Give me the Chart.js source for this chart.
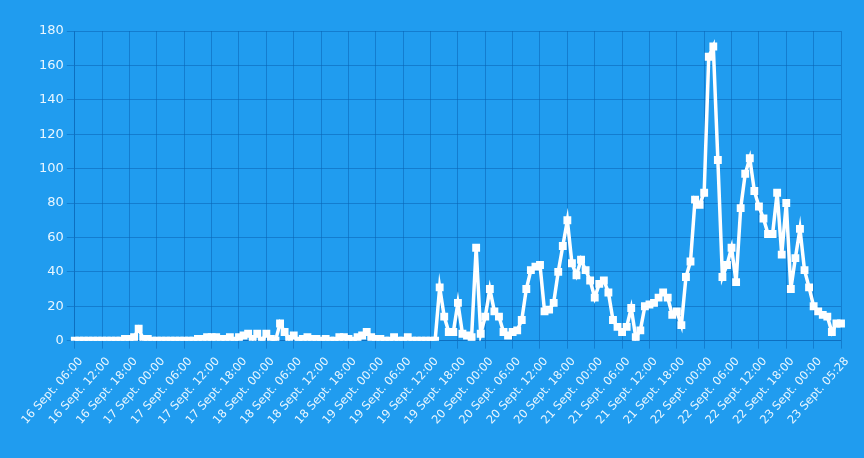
<!DOCTYPE html>
<html>
<head>
<meta charset="utf-8">
<script src="https://cdn.jsdelivr.net/npm/chart.js@4.4.1/dist/chart.umd.min.js"></script>
<style>
  html, body { margin: 0; padding: 0; background: #209cef; }
  #wrap { width: 864px; height: 458px; }
</style>
</head>
<body>
<div id="wrap"><canvas id="chart"></canvas></div>
<script>
// shown every 6 hours on the x axis
const tickLabels = [
  "16 Sept. 06:00", "16 Sept. 12:00", "16 Sept. 18:00",
  "17 Sept. 00:00", "17 Sept. 06:00", "17 Sept. 12:00", "17 Sept. 18:00",
  "18 Sept. 00:00", "18 Sept. 06:00", "18 Sept. 12:00", "18 Sept. 18:00",
  "19 Sept. 00:00", "19 Sept. 06:00", "19 Sept. 12:00", "19 Sept. 18:00",
  "20 Sept. 00:00", "20 Sept. 06:00", "20 Sept. 12:00", "20 Sept. 18:00",
  "21 Sept. 00:00", "21 Sept. 06:00", "21 Sept. 12:00", "21 Sept. 18:00",
  "22 Sept. 00:00", "22 Sept. 06:00", "22 Sept. 12:00", "22 Sept. 18:00",
  "23 Sept. 00:00", "23 Sept. 05:28"
];

// hourly counts, 16 Sept 06:00 -> 23 Sept 05:28
const hourly = [
  0, 0, 0, 0, 0, 0, 0, 0, 0, 0, 0, 1,          // 16 Sept 06-17
  1, 2, 7, 1, 1, 0, 0, 0, 0, 0, 0, 0,          // 18-05
  0, 0, 0, 1, 1, 2, 2, 2, 1, 1, 2, 0,          // 17 Sept 06-17
  2, 3, 4, 1, 4, 0, 4, 1, 0, 10, 5, 1,         // 18-05
  3, 0, 1, 2, 1, 1, 0, 1, 0, 0, 2, 2,          // 18 Sept 06-17
  1, 0, 2, 3, 5, 2, 1, 1, 0, 0, 2, 0,          // 18-05
  0, 2, 0, 0, 0, 0, 0, 0, 31, 14, 5, 5,        // 19 Sept 06-17
  22, 4, 3, 2, 54, 4, 14, 30, 17, 14, 5, 3,    // 18-05
  5, 6, 12, 30, 41, 43, 44, 17, 18, 22, 40, 55, // 20 Sept 06-17
  70, 45, 38, 47, 41, 35, 25, 33, 35, 28, 12, 8, // 18-05
  5, 8, 19, 2, 6, 20, 21, 22, 25, 28, 25, 15,  // 21 Sept 06-17
  17, 9, 37, 46, 82, 79, 86, 165, 171, 105, 37, 44, // 18-05
  54, 34, 77, 97, 106, 87, 78, 71, 62, 62, 86, 50, // 22 Sept 06-17
  80, 30, 48, 65, 41, 31, 20, 17, 15, 14, 5, 10,   // 18-05
  10                                               // 23 Sept 05:28
];

const yTicks = [0, 20, 40, 60, 80, 100, 120, 140, 160, 180];

const labels = hourly.map((_, i) => i % 6 === 0 ? tickLabels[i / 6] : "");

const textColor = "#e8f6ff";
const gridColor = "rgba(10, 100, 180, 0.55)";

new Chart(document.getElementById("chart").getContext("2d"), {
  type: "line",
  data: {
    labels,
    datasets: [{
      data: hourly,
      borderColor: "#ffffff",
      backgroundColor: "#ffffff",
      borderWidth: 3.5,
      pointStyle: "rect",
      pointRadius: 4.5,
      pointBorderWidth: 1.5,
      tension: 0
    }]
  },
  options: {
    responsive: true,
    maintainAspectRatio: false,
    animation: false,
    layout: { padding: { left: 36, right: 23, top: 31, bottom: 25 } },
    plugins: {
      legend: { display: false },
      tooltip: { enabled: false }
    },
    scales: {
      x: {
        grid: { color: gridColor, lineWidth: 1 },
        border: { color: gridColor },
        ticks: {
          autoSkip: false,
          minRotation: 48,
          maxRotation: 48,
          padding: 6,
          labelOffset: 6,
          color: textColor,
          font: { family: "DejaVu Sans", size: 11.5 },
          callback: (v, i) => (i % 6 === 0 ? labels[i] : null)
        }
      },
      y: {
        min: 0,
        max: 180,
        afterBuildTicks: axis => { axis.ticks = yTicks.map(v => ({ value: v })); },
        grid: { color: gridColor, lineWidth: 1 },
        border: { color: gridColor },
        ticks: {
          color: textColor,
          font: { family: "DejaVu Sans", size: 13 }
        }
      }
    }
  }
});
</script>
</body>
</html>
